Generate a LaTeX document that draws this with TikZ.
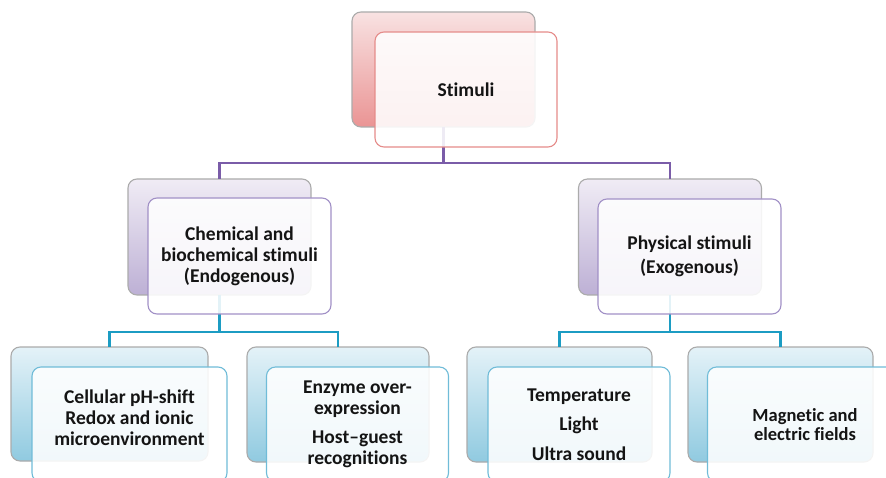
\documentclass[tikz,border=0pt]{standalone}
\usepackage{fontspec}
\setmainfont[Ligatures=NoCommon]{Carlito}
\definecolor{pinkTop}{HTML}{F8E2E2}
\definecolor{pinkBot}{HTML}{EA9494}
\definecolor{purTop}{HTML}{F0ECF5}
\definecolor{purBot}{HTML}{BDB0D5}
\definecolor{bluTop}{HTML}{E4F2F8}
\definecolor{bluBot}{HTML}{90CAE0}
\definecolor{backEdge}{HTML}{ABABAB}
\definecolor{pinkEdge}{HTML}{E58C8A}
\definecolor{purEdge}{HTML}{A190C6}
\definecolor{bluEdge}{HTML}{70BCD8}
\definecolor{purLine}{HTML}{7A5CA8}
\definecolor{bluLine}{HTML}{1C9CC3}
\definecolor{txt}{HTML}{141414}
\begin{document}
\begin{tikzpicture}[x=1pt,y=-1pt,
  box/.style={rectangle, rounded corners=9pt, inner sep=0pt, outer sep=0pt, line width=1.1pt},
  pinkback/.style={box, draw=backEdge, top color=pinkTop, bottom color=pinkBot},
  purback/.style={box, draw=backEdge, top color=purTop, bottom color=purBot},
  bluback/.style={box, draw=backEdge, top color=bluTop, bottom color=bluBot},
  front/.style={box, fill=white, fill opacity=0.88, text opacity=1, align=center, text=txt,
    font=\bfseries\fontsize{19.5}{21}\selectfont},
  pinkfront/.style={front, draw=pinkEdge},
  purfront/.style={front, draw=purEdge},
  blufront/.style={front, draw=bluEdge},
  purconn/.style={draw=purLine, line width=2.5pt},
  bluconn/.style={draw=bluLine, line width=2.5pt}]
\useasboundingbox (0,0) rectangle (886,478);
% back boxes
\node[pinkback, minimum width=183pt, minimum height=115pt] (b0) at (443.5,69.5) {};
\node[purback, minimum width=183pt, minimum height=116pt] (b1) at (219.5,237) {};
\node[purback, minimum width=183pt, minimum height=116pt] (b2) at (670,237) {};
\node[bluback, minimum width=197pt, minimum height=114pt] (b3) at (109.5,404) {};
\node[bluback, minimum width=182pt, minimum height=115pt] (b4) at (338,404.5) {};
\node[bluback, minimum width=185pt, minimum height=115pt] (b5) at (559.5,404.5) {};
\node[bluback, minimum width=185pt, minimum height=115pt] (b6) at (780.5,404.5) {};
% connectors
\draw[purconn] (b0.south) -- ++(0,36) -| (b1.north);
\draw[purconn] (b0.south) -- ++(0,36) -| (b2.north);
\draw[bluconn] (b1.south) -- ++(0,37) -| (b3.north);
\draw[bluconn] (b1.south) -- ++(0,37) -| (b4.north);
\draw[bluconn] (b2.south) -- ++(0,37) -| (b5.north);
\draw[bluconn] (b2.south) -- ++(0,37) -| (b6.north);
% front boxes
\node[pinkfront, minimum width=182pt, minimum height=115pt] (f0) at (466,89.5) {Stimuli};
\node[purfront, minimum width=183pt, minimum height=116pt] (f1) at (239.5,256) {Chemical and\\biochemical stimuli\\(Endogenous)};
\node[purfront, minimum width=183pt, minimum height=115pt] (f2) at (689.5,256.5) {Physical stimuli\\[3pt](Exogenous)};
\node[blufront, minimum width=195pt, minimum height=115pt] (f3) at (129.5,424.5) {Cellular pH-shift\\Redox and ionic\\microenvironment\\[-8pt]\mbox{}};
\node[blufront, minimum width=182pt, minimum height=115pt] (f4) at (357.5,424.5) {Enzyme over-\\expression\\[8pt]Host--guest\\recognitions};
\node[blufront, minimum width=182pt, minimum height=115pt] (f5) at (579,424.5) {Temperature\\[8.5pt]Light\\[8.5pt]Ultra sound};
\node[blufront, minimum width=195pt, minimum height=115pt, font=\bfseries\fontsize{18.5}{19}\selectfont] (f6) at (805,424.5) {Magnetic and\\electric fields};
\end{tikzpicture}
\end{document}
